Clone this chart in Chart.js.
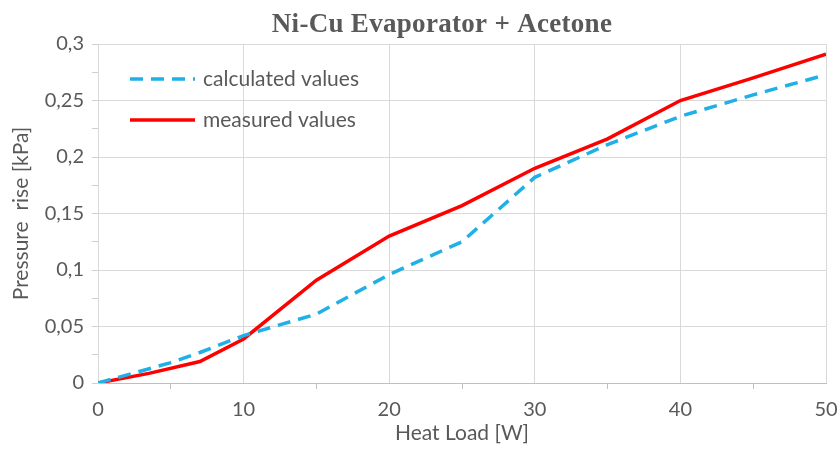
<!DOCTYPE html>
<html>
<head>
<meta charset="utf-8">
<script src="https://cdn.jsdelivr.net/npm/chart.js@4/dist/chart.umd.min.js"></script>
<style>
  body { margin: 0; background: #fff; }
  #wrap { width: 840px; height: 451px; }
</style>
</head>
<body>
<div id="wrap"><canvas id="pressureChart" width="840" height="451"></canvas></div>
<script>
'use strict'

const chartTitle = 'Ni-Cu Evaporator + Acetone';
const xTitle = 'Heat Load [W]';
const yTitle = 'Pressure  rise [kPa]';

const calcLabel = 'calculated values';
const calcLoad = [0, 5, 7, 10, 15, 20, 25, 30, 35, 40, 45, 49.5];
const calcPressure = [0, 0.018, 0.027, 0.042, 0.061, 0.096, 0.125, 0.182, 0.211, 0.236, 0.255, 0.271];

const measLabel = 'measured values';
const measLoad = [0, 3.5, 7, 10, 15, 20, 25, 30, 35, 40, 45, 50];
const measPressure = [0, 0.0085, 0.019, 0.039, 0.091, 0.13, 0.157, 0.19, 0.216, 0.25, 0.27, 0.291];

const textColor = '#595959';
const gridColor = '#d9d9d9';
const tickFont = { family: 'Lato', size: 20 };
const titleFont = { family: 'Lato', size: 21 };

function toPoints(xs, ys) {
  return xs.map((x, i) => ({ x: x, y: ys[i] }));
}

function isMajorY(v) {
  return Math.round(v * 1000) % 50 === 0;
}

// title sits a bit left of centre in the original, so draw it by hand
const chartHeading = {
  id: 'chartHeading',
  afterDraw(chart) {
    const ctx = chart.ctx;
    ctx.save();
    ctx.fillStyle = textColor;
    ctx.font = 'bold 27px "Liberation Serif"';
    if ('letterSpacing' in ctx) ctx.letterSpacing = '0.3px';
    ctx.textAlign = 'center';
    ctx.textBaseline = 'alphabetic';
    ctx.fillText(chartTitle, 442, 32);
    ctx.restore();
  }
};

// legend drawn inside the plot, like the original
const innerLegend = {
  id: 'innerLegend',
  afterDraw(chart) {
    const ctx = chart.ctx;
    const left = chart.chartArea.left + 32;
    const rows = [79, 120];
    ctx.save();
    chart.data.datasets.forEach((ds, i) => {
      const y = rows[i];
      ctx.beginPath();
      ctx.strokeStyle = ds.borderColor;
      ctx.lineWidth = ds.borderWidth;
      ctx.setLineDash(ds.borderDash || []);
      ctx.moveTo(left, y);
      ctx.lineTo(left + 65, y);
      ctx.stroke();
      ctx.setLineDash([]);
      ctx.fillStyle = textColor;
      ctx.font = '21px Lato';
      ctx.textBaseline = 'middle';
      ctx.fillText(ds.label, left + 73, y);
    });
    ctx.restore();
  }
};

const data = {
  datasets: [{
    label: calcLabel,
    data: toPoints(calcLoad, calcPressure),
    borderColor: '#1fb0e8',
    borderWidth: 3.5,
    borderDash: [13, 8],
    pointRadius: 0,
    tension: 0,
  }, {
    label: measLabel,
    data: toPoints(measLoad, measPressure),
    borderColor: '#ff0000',
    borderWidth: 3.5,
    pointRadius: 0,
    tension: 0,
  }]
};

const options = {
  responsive: false,
  animation: false,
  layout: { padding: { left: 0, right: 14, top: 44, bottom: 0 } },
  scales: {
    x: {
      type: 'linear',
      min: 0,
      max: 50,
      afterFit: function(scale) {
        scale.height = 68;
        scale.paddingLeft = 0;
        scale.paddingRight = 0;
      },
      ticks: {
        stepSize: 5,
        color: textColor,
        font: tickFont,
        padding: 9,
        maxRotation: 0,
        autoSkip: false,
        callback: function(value) {
          return value % 10 === 0 ? value : '';
        }
      },
      grid: {
        color: function(c) { return c.tick && c.tick.value % 10 === 0 ? gridColor : 'rgba(0,0,0,0)'; },
        tickColor: function(c) { return c.tick && c.tick.value % 10 !== 0 ? '#bfbfbf' : 'rgba(0,0,0,0)'; },
        tickLength: 6,
      },
      border: { color: '#bfbfbf', width: 1 },
      title: {
        display: true,
        text: xTitle,
        color: textColor,
        font: titleFont,
        padding: { top: 0, bottom: 5 },
      }
    },
    y: {
      min: 0,
      max: 0.3,
      afterFit: function(scale) {
        scale.width = 98;
        scale.paddingTop = 0;
        scale.paddingBottom = 0;
      },
      ticks: {
        stepSize: 0.025,
        color: textColor,
        font: tickFont,
        padding: 8,
        autoSkip: false,
        callback: function(value) {
          if (!isMajorY(value)) return '';
          return Number(value.toFixed(3)).toString().replace('.', ',');
        }
      },
      grid: {
        color: function(c) { return c.tick && isMajorY(c.tick.value) ? gridColor : 'rgba(0,0,0,0)'; },
        tickColor: '#d0d0d0',
        tickLength: 6,
      },
      border: { color: gridColor },
      title: {
        display: true,
        text: yTitle,
        color: textColor,
        font: titleFont,
        padding: { top: 9, bottom: 0 },
      }
    }
  },
  plugins: {
    legend: { display: false },
    tooltip: { enabled: false },
    title: { display: false },
  }
};

const ctx = document.getElementById('pressureChart').getContext('2d');
const pressureChart = new Chart(ctx, {
  type: 'line',
  data: data,
  options: options,
  plugins: [chartHeading, innerLegend],
});
</script>
</body>
</html>
